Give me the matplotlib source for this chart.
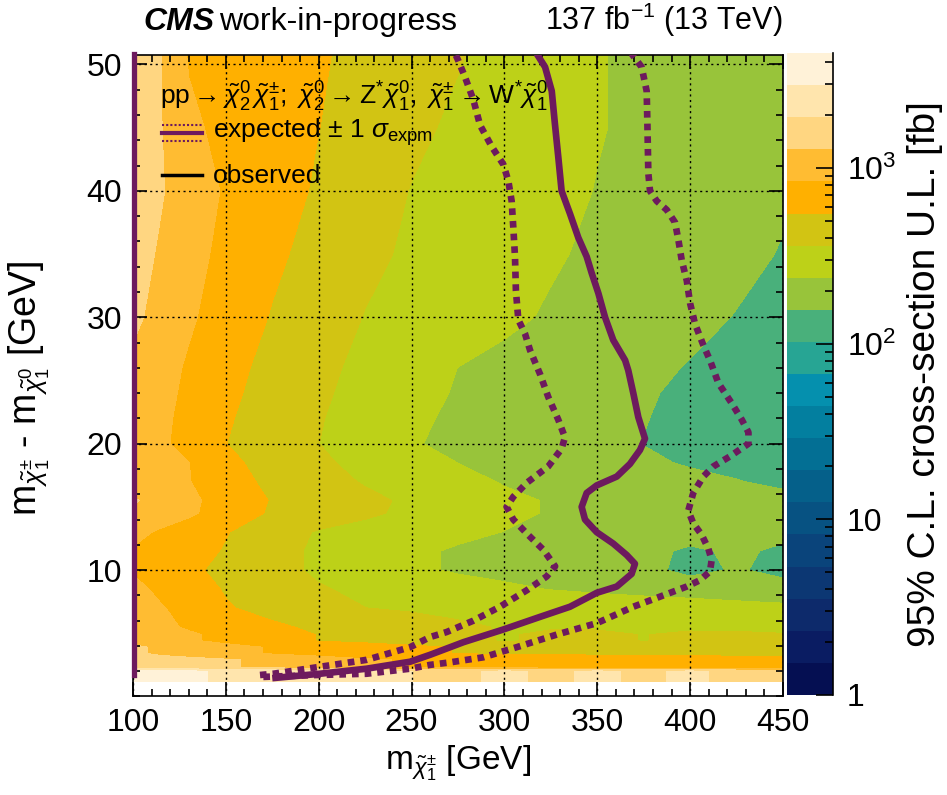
import numpy as np
import matplotlib
matplotlib.use("Agg")
import matplotlib.pyplot as plt
from matplotlib.colors import ListedColormap
from matplotlib.ticker import FixedLocator, MultipleLocator

plt.rcParams["font.family"] = ["Liberation Sans", "DejaVu Sans"]
plt.rcParams["mathtext.fontset"] = "custom"
plt.rcParams["mathtext.rm"] = "Liberation Sans"
plt.rcParams["mathtext.it"] = "Liberation Sans:italic"
plt.rcParams["mathtext.bf"] = "Liberation Sans:bold"

# grid nodes of the upper-limit map (GeV)
chargino_mass = [100, 115, 130, 150, 175, 200, 225, 250, 275, 300, 325, 350, 375, 400, 425, 450]
mass_splitting = [1.17, 2.0, 2.3, 2.9, 3.4, 3.9, 4.4, 4.9, 5.5, 7.0, 8.5, 10.0, 11.5, 13.0,
                  14.5, 15.5, 17.0, 18.5, 20.0, 22.0, 24.0, 26.0, 30.0, 35.0, 40.0, 45.0, 50.8]

# 95% CL cross-section upper limit [fb], one row per mass splitting node
xsec_ul_fb = [
    [3370, 3370, 3230, 2730, 2510, 2410, 2310, 1950, 1790, 2120, 1790, 2120, 1790, 2120, 1720, 1720],
    [3370, 3370, 3230, 2730, 2510, 2410, 2310, 1950, 1790, 2120, 1790, 2120, 1790, 2120, 1720, 1720],
    [1650, 1510, 1450, 1330, 1180, 1020, 887, 805, 772, 740, 725, 710, 710, 695, 680, 680],
    [1650, 1510, 1450, 1330, 1180, 1020, 887, 805, 772, 740, 725, 710, 710, 695, 680, 680],
    [1390, 1190, 1080, 945, 815, 734, 661, 595, 544, 529, 518, 507, 496, 486, 476, 466],
    [1390, 1190, 1080, 945, 815, 734, 661, 595, 544, 529, 518, 507, 496, 486, 476, 466],
    [1130, 1000, 884, 765, 644, 544, 507, 466, 428, 347, 394, 411, 355, 411, 411, 378],
    [1130, 1000, 884, 765, 644, 544, 507, 466, 428, 347, 394, 411, 355, 411, 411, 378],
    [1080, 918, 802, 698, 587, 515, 466, 421, 381, 354, 344, 333, 323, 314, 303, 293],
    [1130, 869, 722, 570, 488, 421, 363, 347, 333, 319, 306, 293, 287, 281, 270, 259],
    [953, 765, 652, 535, 447, 373, 336, 306, 279, 254, 235, 224, 213, 203, 193, 185],
    [805, 692, 595, 498, 409, 341, 295, 255, 228, 214, 203, 193, 177, 138, 163, 138],
    [805, 713, 633, 535, 414, 338, 293, 254, 228, 214, 201, 193, 181, 143, 170, 143],
    [953, 792, 683, 563, 434, 350, 316, 286, 257, 236, 224, 214, 204, 195, 185, 177],
    [1230, 1050, 899, 695, 524, 449, 386, 334, 292, 256, 232, 219, 209, 197, 187, 177],
    [1330, 1120, 918, 710, 538, 458, 394, 340, 296, 256, 232, 219, 209, 197, 187, 177],
    [1130, 982, 854, 652, 503, 418, 351, 303, 263, 232, 215, 199, 185, 171, 159, 143],
    [1080, 957, 844, 610, 472, 386, 324, 277, 237, 217, 197, 180, 165, 151, 138, 126],
    [1040, 895, 737, 554, 449, 363, 297, 244, 220, 202, 185, 170, 155, 140, 128, 116],
    [1080, 910, 753, 575, 458, 371, 306, 253, 224, 205, 189, 173, 158, 143, 129, 116],
    [1130, 937, 779, 602, 474, 384, 319, 267, 231, 211, 193, 177, 161, 147, 134, 121],
    [1180, 969, 802, 628, 490, 397, 330, 279, 237, 218, 199, 183, 168, 153, 139, 126],
    [1390, 1120, 887, 701, 538, 436, 357, 319, 285, 254, 229, 207, 188, 170, 154, 138],
    [1510, 1220, 965, 756, 595, 482, 395, 341, 306, 275, 247, 224, 204, 187, 170, 153],
    [1650, 1320, 1050, 805, 650, 526, 432, 357, 322, 290, 261, 235, 215, 196, 179, 163],
    [1720, 1300, 906, 756, 647, 554, 466, 390, 340, 303, 271, 242, 223, 206, 191, 177],
    [1720, 1290, 812, 737, 650, 573, 498, 430, 371, 322, 279, 242, 223, 208, 194, 181],
]

# expected exclusion contour and its +-1 sigma band (mass, splitting)
exp_mass = [175, 200.7, 225.8, 249.2, 260, 278, 299.4, 319.2, 335.3, 349.7, 360.5, 368.5, 370.3,
            365.8, 358.6, 349.7, 343.4, 341.6, 344.3, 349.7, 360.5, 367.6, 373, 375.7, 372.1, 369.4,
            366.7, 365, 358.6, 354.2, 350.6, 347, 344.3, 339.8, 335.3, 330.8, 329, 327.2, 325.5,
            321.9, 317.4]
exp_dm = [1.45, 1.8, 2.2, 2.75, 3.3, 4.3, 5.3, 6.3, 7.1, 8.2, 8.7, 9.7, 10.5,
          11.2, 12.1, 13.0, 14.0, 15.0, 16.1, 16.7, 17.4, 18.4, 19.5, 20.4, 22.1, 24.0,
          25.8, 26.6, 28.2, 30.0, 31.9, 33.5, 34.8, 36.3, 38.2, 40.0, 42.7, 45.3, 47.9,
          49.8, 50.85]

exp_outer_mass = [170.2, 198.9, 225.8, 249.2, 259.9, 270.7, 288.6, 306.6, 328.2, 349.7, 369.4,
                  385.6, 398.2, 405.3, 410.7, 411.6, 409.8, 406.2, 401.7, 399, 401.7, 407.1,
                  412.5, 421.5, 431.4, 431.4, 427.8, 422.4, 415.2, 410.7, 407.1, 402.6, 400,
                  398.2, 395.5, 393.7, 391.9, 387.4, 382, 378.4, 377.5, 377, 376.6, 373.9, 368.5]
exp_outer_dm = [1.55, 1.7, 1.8, 2.2, 2.5, 2.7, 3.1, 3.9, 4.9, 5.8, 7.1,
                8.0, 8.7, 9.2, 9.9, 10.8, 11.7, 12.8, 13.7, 14.7, 16.1, 17.4,
                18.2, 19.0, 20.0, 20.9, 21.9, 23.2, 24.8, 26.6, 27.8, 29.5, 31.1,
                32.9, 34.5, 36.1, 37.5, 38.5, 39.2, 40.0, 41.4, 45.3, 47.9, 49.8, 50.85]

exp_inner_mass = [168.4, 175.6, 200.7, 225.8, 249.2, 259.9, 268.9, 283.3, 297.6, 312, 322.8,
                  327.3, 321, 312, 304.8, 301.2, 304.8, 312, 323.6, 330.8, 332.6, 329, 323.6,
                  319.2, 313.8, 311.1, 307.5, 306.2, 305.7, 304.8, 303.9, 302.1, 299.4, 293.2,
                  286.9, 283.3, 278.8, 275.2, 273.5]
exp_inner_dm = [1.7, 1.8, 2.35, 2.9, 3.9, 4.7, 5.1, 6.0, 7.1, 8.4, 9.5,
                10.3, 11.6, 12.9, 14.0, 15.0, 15.8, 16.9, 18.2, 19.6, 20.5, 21.9, 23.7,
                25.5, 27.4, 28.7, 29.8, 32.1, 34.8, 37.1, 39.2, 40.8, 42.1, 43.5,
                45.2, 47.2, 49.0, 50.3, 50.85]

# edge of the expected contour along the lowest chargino mass
exp_edge_mass = [100.6, 100.6]
exp_edge_dm = [1.7, 50.85]

# colour scale
ul_min, ul_max = 1.0, 4520.0
palette = ["#050f52", "#0a1c62", "#0d2a6b", "#0c3773", "#0a447b", "#075282", "#05608a",
           "#036f94", "#037f9f", "#0590ae", "#27a594", "#49b07b", "#98c43a", "#bdd118",
           "#d2c413", "#ffb000", "#ffbc32", "#ffd681", "#ffe5ad", "#fff2d8"]
cbar_ticks = [0, 1, 2, 3]
cbar_ticklabels = ["1", "10", r"10$^{2}$", r"10$^{3}$"]

LINE_COLOR = "#6d1a5e"
DOTTED = (0, (1.0, 0.9))


def main():
    fig = plt.figure(figsize=(9.47, 7.95), dpi=100)
    ax = fig.add_axes([0.1404, 0.1239, 0.6864, 0.8069])
    cax = fig.add_axes([0.8310, 0.1258, 0.0486, 0.8075])

    z = np.log10(np.array(xsec_ul_fb, dtype=float))
    levels = np.linspace(np.log10(ul_min), np.log10(ul_max), len(palette) + 1)
    cmap = ListedColormap(palette)
    cs = ax.contourf(chargino_mass, mass_splitting, z, levels=levels, cmap=cmap, zorder=1)

    # expected limit and +-1 sigma
    ax.plot(exp_mass, exp_dm, color=LINE_COLOR, lw=4.8, solid_capstyle="butt", zorder=4)
    ax.plot(exp_outer_mass, exp_outer_dm, color=LINE_COLOR, lw=4.8, ls=DOTTED,
            dash_capstyle="butt", zorder=4)
    ax.plot(exp_inner_mass, exp_inner_dm, color=LINE_COLOR, lw=4.8, ls=DOTTED,
            dash_capstyle="butt", zorder=4)
    ax.plot(exp_edge_mass, exp_edge_dm, color=LINE_COLOR, lw=3.8, zorder=5, clip_on=False)

    ax.set_xlim(100, 450)
    ax.set_ylim(0, 50.75)
    ax.xaxis.set_major_locator(MultipleLocator(50))
    ax.xaxis.set_minor_locator(MultipleLocator(10))
    ax.yaxis.set_major_locator(FixedLocator([10, 20, 30, 40, 50]))
    ax.yaxis.set_minor_locator(MultipleLocator(2))
    ax.tick_params(which="both", direction="in", top=True, right=True, labelsize=23, width=1.2)
    ax.tick_params(which="major", length=10, pad=8)
    ax.tick_params(which="minor", length=5)
    ax.set_axisbelow(False)
    ax.grid(True, which="major", color="black", lw=1.0, ls=(0, (1.5, 2.5)))
    for sp in ax.spines.values():
        sp.set_linewidth(1.2)

    ax.set_xlabel(r"m$_{\tilde{\chi}^{\pm}_{1}}$ [GeV]", fontsize=24, labelpad=4)
    ax.set_ylabel(r"m$_{\tilde{\chi}^{\pm}_{1}}$ - m$_{\tilde{\chi}^{0}_{1}}$ [GeV]", fontsize=27)
    ax.yaxis.set_label_coords(-0.125, 0.48)

    # legend block
    ax.text(0.0415, 0.935,
            r"$\mathrm{pp}\rightarrow\tilde{\chi}^{0}_{2}\,\tilde{\chi}^{\pm}_{1};"
            r"\ \tilde{\chi}^{0}_{2}\rightarrow\mathrm{Z}^{*}\tilde{\chi}^{0}_{1},"
            r"\ \tilde{\chi}^{\pm}_{1}\rightarrow\mathrm{W}^{*}\tilde{\chi}^{0}_{1}$",
            transform=ax.transAxes, fontsize=19, va="center", ha="left", zorder=6)
    ax.plot([0.0446, 0.106], [0.879, 0.879], transform=ax.transAxes, color=LINE_COLOR,
            lw=3, zorder=6)
    for yy in (0.8915, 0.8665):
        ax.plot([0.0446, 0.106], [yy, yy], transform=ax.transAxes, color=LINE_COLOR,
                lw=1.5, ls=(0, (1, 1)), zorder=6)
    ax.text(0.123, 0.879, r"expected $\pm$ 1 $\sigma_{\rm expm}$", transform=ax.transAxes,
            fontsize=19, va="center", ha="left", zorder=6)
    ax.plot([0.0446, 0.106], [0.813, 0.813], transform=ax.transAxes, color="black",
            lw=2.5, zorder=6)
    ax.text(0.123, 0.811, "observed", transform=ax.transAxes, fontsize=19,
            va="center", ha="left", zorder=6)

    # header
    fig.text(0.151, 0.962, "CMS", fontsize=23, fontweight="bold", fontstyle="italic",
             va="baseline", ha="left")
    fig.text(0.2308, 0.962, "work-in-progress", fontsize=23, va="baseline", ha="left")
    fig.text(0.8268, 0.962, r"137 fb$^{-1}$ (13 TeV)", fontsize=22, va="baseline", ha="right")

    # colour bar
    cb = fig.colorbar(cs, cax=cax)
    cb.outline.set_visible(False)
    cax.plot([1, 1], [0, 1], transform=cax.transAxes, color="black", lw=1.2, clip_on=False)
    cax.yaxis.set_major_locator(FixedLocator(cbar_ticks))
    cax.set_yticklabels(cbar_ticklabels)
    minor = [np.log10(k * 10 ** n) for n in range(4) for k in range(2, 10)
             if k * 10 ** n <= ul_max]
    cax.yaxis.set_minor_locator(FixedLocator(minor))
    cax.tick_params(which="both", direction="in", right=True, left=False,
                    labelsize=23, width=1.2, pad=10)
    cax.tick_params(which="major", length=12)
    cax.tick_params(which="minor", length=6)
    cax.set_ylabel("95% C.L. cross-section U.L. [fb]", fontsize=28, labelpad=8)

    fig.savefig("out.png", dpi=100)
    plt.close(fig)


if __name__ == "__main__":
    main()
